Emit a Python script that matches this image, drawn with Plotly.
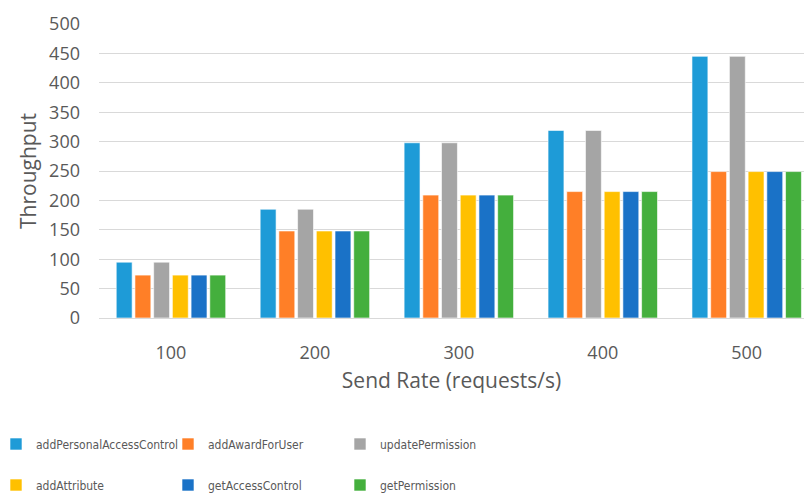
import plotly.graph_objects as go

# Send rates (x categories) and measured throughput per transaction type
send_rates = ["100", "200", "300", "400", "500"]
add_personal_access_control = [95, 185, 298, 319, 445]
add_award_for_user = [73, 148, 209, 215, 249]
update_permission = [95, 185, 298, 319, 445]
add_attribute = [73, 148, 209, 215, 249]
get_access_control = [73, 148, 209, 215, 249]
get_permission = [73, 148, 209, 215, 249]

y_ticks = [0, 50, 100, 150, 200, 250, 300, 350, 400, 450, 500]

series = [
    ("addPersonalAccessControl", add_personal_access_control, "#1E9BD7", "legend"),
    ("addAwardForUser", add_award_for_user, "#FF7F27", "legend"),
    ("updatePermission", update_permission, "#A5A5A5", "legend"),
    ("addAttribute", add_attribute, "#FFC000", "legend2"),
    ("getAccessControl", get_access_control, "#1A72C7", "legend2"),
    ("getPermission", get_permission, "#44AF3D", "legend2"),
]

W, H = 804, 496
tick_font = dict(family="Open Sans", size=18, color="#595959")
title_font = dict(family="Open Sans", size=21, color="#595959")
legend_font = dict(family="DejaVu Sans Condensed", size=12, color="#595959")

fig = go.Figure()
for name, vals, color, leg in series:
    fig.add_trace(go.Bar(
        x=send_rates, y=vals, name=name, legend=leg,
        marker=dict(color=color, line=dict(color="rgba(255,255,255,0.6)", width=1)),
    ))

legend_common = dict(
    orientation="h", xref="container", yref="container",
    x=0.0, xanchor="left", yanchor="middle",
    entrywidth=131, entrywidthmode="pixels", indentation=-4,
    font=legend_font, bgcolor="rgba(0,0,0,0)",
)

fig.update_layout(
    width=W, height=H,
    margin=dict(l=99, r=0, t=24, b=178, autoexpand=False),
    paper_bgcolor="white", plot_bgcolor="white",
    barmode="group", bargap=0.22, bargroupgap=0.15,
    showlegend=True,
    legend=dict(legend_common, y=1 - 444 / H),
    legend2=dict(legend_common, y=1 - 485 / H),
    xaxis=dict(
        type="category", range=[-0.5, 4.398],
        showgrid=False, showline=True, linecolor="#D9D9D9", linewidth=1,
        ticks="", tickfont=tick_font, ticklabelstandoff=18,
        title=dict(text="Send Rate (requests/s)", font=title_font, standoff=10),
        fixedrange=True,
    ),
    yaxis=dict(
        range=[0, 500], tickvals=y_ticks, ticktext=[str(v) for v in y_ticks],
        showgrid=True, gridcolor="#D9D9D9", gridwidth=1,
        zeroline=False, showline=False, ticks="",
        tickfont=tick_font, ticklabelstandoff=18,
        title=dict(text="Throughput", font=title_font, standoff=6),
        fixedrange=True,
    ),
)

fig.write_html("out.html")
